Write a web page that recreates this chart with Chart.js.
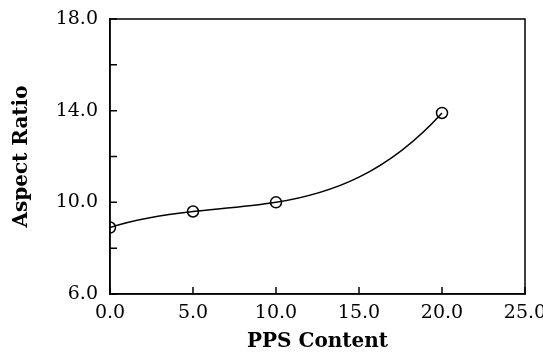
<!DOCTYPE html>
<html>
<head>
<meta charset="utf-8">
<script src="https://cdn.jsdelivr.net/npm/chart.js@4"></script>
<style>
  body { margin: 0; background: #fff; }
</style>
</head>
<body>
<canvas id="chart" width="543" height="356"></canvas>
<script>
// PPS content vs aspect ratio
const ppsContent = [0, 5, 10, 20];
const aspectRatio = [8.9, 9.6, 10.0, 13.9];
const xTicks = [0, 5, 10, 15, 20, 25];
const yTicks = [6, 8, 10, 12, 14, 16, 18];
const yLabelled = [6, 10, 14, 18];

const points = ppsContent.map((x, i) => ({ x: x, y: aspectRatio[i] }));

// slope of the polynomial through the data points, used to bend the line smoothly
function slopeAt(x) {
    let s = 0;
    for (let j = 0; j < ppsContent.length; j++) {
        let sj = 0;
        for (let k = 0; k < ppsContent.length; k++) {
            if (k === j) continue;
            let term = 1 / (ppsContent[j] - ppsContent[k]);
            for (let m = 0; m < ppsContent.length; m++) {
                if (m === j || m === k) continue;
                term *= (x - ppsContent[m]) / (ppsContent[j] - ppsContent[m]);
            }
            sj += term;
        }
        s += aspectRatio[j] * sj;
    }
    return s;
}

const smoothCurve = {
    id: 'smoothCurve',
    beforeDatasetDraw(chart, args) {
        const meta = args.meta;
        const xs = chart.scales.x;
        const ys = chart.scales.y;
        meta.dataset.updateControlPoints(chart.chartArea);
        const pts = meta.data;
        for (let i = 0; i < pts.length; i++) {
            const x = ppsContent[i], y = aspectRatio[i];
            const m = slopeAt(x);
            if (i > 0) {
                const h = (x - ppsContent[i - 1]) / 3;
                pts[i].cp1x = xs.getPixelForValue(x - h);
                pts[i].cp1y = ys.getPixelForValue(y - m * h);
            }
            if (i < pts.length - 1) {
                const h = (ppsContent[i + 1] - x) / 3;
                pts[i].cp2x = xs.getPixelForValue(x + h);
                pts[i].cp2y = ys.getPixelForValue(y + m * h);
            }
        }
    }
};

// frame on top/right and inward tick marks
const frameTicks = {
    id: 'frameTicks',
    afterDraw(chart) {
        const ctx = chart.ctx;
        const a = chart.chartArea;
        const xs = chart.scales.x;
        const ys = chart.scales.y;
        ctx.save();
        ctx.strokeStyle = '#000';
        ctx.lineWidth = 1.5;
        ctx.strokeRect(a.left, a.top, a.right - a.left, a.bottom - a.top);
        ctx.beginPath();
        xTicks.forEach(v => {
            const px = xs.getPixelForValue(v);
            ctx.moveTo(px, a.bottom);
            ctx.lineTo(px, a.bottom - 7);
        });
        yTicks.forEach(v => {
            const py = ys.getPixelForValue(v);
            ctx.moveTo(a.left, py);
            ctx.lineTo(a.left + 7, py);
        });
        ctx.stroke();
        ctx.restore();
    }
};

const tickFont = { family: 'DejaVu Serif', size: 19 };
const titleFont = { family: 'DejaVu Serif', size: 20, weight: 'bold' };

new Chart(document.getElementById('chart').getContext('2d'), {
    type: 'scatter',
    data: {
        datasets: [{
            data: points,
            showLine: true,
            cubicInterpolationMode: 'monotone',
            borderColor: '#000',
            borderWidth: 1.5,
            pointStyle: 'circle',
            pointRadius: 5.5,
            pointBorderWidth: 1.5,
            pointBackgroundColor: 'rgba(255,255,255,0)',
            pointBorderColor: '#000'
        }]
    },
    plugins: [smoothCurve, frameTicks],
    options: {
        responsive: false,
        animation: false,
        layout: { padding: { top: 19, right: 18, left: 0, bottom: 0 } },
        plugins: { legend: { display: false }, tooltip: { enabled: false } },
        scales: {
            x: {
                type: 'linear',
                min: 0,
                max: 25,
                afterBuildTicks: s => { s.ticks = xTicks.map(v => ({ value: v })); },
                afterFit: s => { s.height = 62; s.paddingLeft = 0; s.paddingRight = 0; },
                grid: { display: false },
                border: { display: true, color: '#000', width: 1.5 },
                ticks: {
                    color: '#000',
                    font: tickFont,
                    padding: 0,
                    maxRotation: 0,
                    callback: v => v.toFixed(1)
                },
                title: {
                    display: true,
                    text: 'PPS Content',
                    color: '#000',
                    font: titleFont,
                    padding: { top: 0, bottom: 2 }
                }
            },
            y: {
                type: 'linear',
                min: 6,
                max: 18,
                afterBuildTicks: s => { s.ticks = yLabelled.map(v => ({ value: v })); },
                afterFit: s => { s.width = 110; s.paddingTop = 0; s.paddingBottom = 0; },
                grid: { display: false },
                border: { display: true, color: '#000', width: 1.5 },
                ticks: {
                    color: '#000',
                    font: tickFont,
                    padding: 4,
                    callback: v => v.toFixed(1)
                },
                title: {
                    display: true,
                    text: 'Aspect Ratio',
                    color: '#000',
                    font: titleFont,
                    padding: { top: 10, bottom: 0 }
                }
            }
        }
    }
});
</script>
</body>
</html>
